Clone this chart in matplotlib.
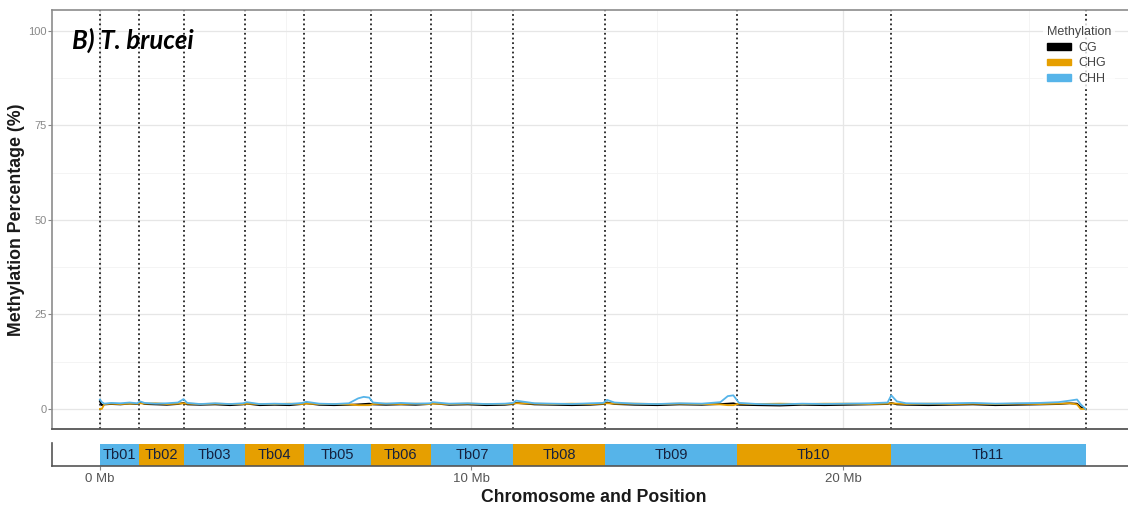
import matplotlib
matplotlib.use("Agg")
import matplotlib.pyplot as plt
from matplotlib.patches import Patch
import numpy as np

plt.rcParams['font.family'] = ['Liberation Sans', 'DejaVu Sans']

# chromosome names and cumulative ends (Mb)
chroms = ['Tb01', 'Tb02', 'Tb03', 'Tb04', 'Tb05', 'Tb06', 'Tb07', 'Tb08', 'Tb09', 'Tb10', 'Tb11']
chrom_ends = [1.06, 2.25, 3.90, 5.49, 7.29, 8.91, 11.12, 13.60, 17.14, 21.28, 26.53]
chrom_colors = ['#56B4E9', '#E69F00'] * 6

# genome position (Mb) and methylation (%) for each context
pos = [0.00, 0.05, 0.12, 0.30, 0.55, 0.80, 1.00, 1.08, 1.20, 1.50, 1.80, 2.10, 2.25, 2.35,
       2.70, 3.10, 3.50, 3.85, 3.95, 4.30, 4.70, 5.10, 5.45, 5.55, 5.90, 6.30, 6.70, 6.95,
       7.10, 7.25, 7.35, 7.70, 8.10, 8.50, 8.88, 8.95, 9.40, 9.90, 10.40, 10.90, 11.12, 11.20,
       11.70, 12.20, 12.70, 13.20, 13.55, 13.65, 13.85, 14.40, 15.00, 15.60, 16.20, 16.70, 16.90,
       17.05, 17.20, 17.70, 18.30, 18.90, 19.50, 20.10, 20.70, 21.20, 21.30, 21.45, 21.70, 22.30,
       22.90, 23.50, 24.10, 24.70, 25.30, 25.80, 26.10, 26.30, 26.40, 26.53]
cg = [2.0, 1.0, 1.2, 1.3, 1.2, 1.4, 1.3, 1.8, 1.3, 1.2, 1.1, 1.3, 1.6, 1.2,
      1.1, 1.2, 1.0, 1.2, 1.4, 1.0, 1.1, 1.0, 1.3, 1.5, 1.1, 1.0, 1.1, 1.2,
      1.3, 1.4, 1.2, 1.1, 1.2, 1.1, 1.3, 1.5, 1.1, 1.2, 1.0, 1.1, 1.3, 1.6,
      1.2, 1.1, 1.0, 1.1, 1.3, 1.7, 1.3, 1.1, 1.0, 1.2, 1.1, 1.3, 1.4,
      1.5, 1.1, 1.0, 0.9, 1.1, 1.0, 1.1, 1.2, 1.3, 1.6, 1.2, 1.1, 1.0,
      1.1, 1.2, 1.0, 1.1, 1.2, 1.3, 1.5, 1.4, 0.5, 0.0]
chg = [0.0, 0.0, 1.3, 1.4, 1.3, 1.4, 1.4, 1.5, 1.4, 1.5, 1.3, 1.4, 1.5, 1.4,
       1.3, 1.4, 1.3, 1.3, 1.4, 1.3, 1.3, 1.4, 1.3, 1.4, 1.3, 1.3, 1.2, 1.0,
       1.0, 1.0, 1.3, 1.4, 1.3, 1.4, 1.3, 1.4, 1.3, 1.4, 1.3, 1.3, 1.4, 1.5,
       1.4, 1.3, 1.4, 1.3, 1.4, 1.5, 1.4, 1.4, 1.3, 1.4, 1.3, 1.2, 1.0,
       1.0, 1.4, 1.3, 1.4, 1.3, 1.4, 1.4, 1.3, 1.4, 1.5, 1.4, 1.3, 1.4,
       1.3, 1.4, 1.3, 1.4, 1.3, 1.4, 1.5, 1.2, 0.0, 0.0]
chh = [2.5, 1.8, 1.4, 1.6, 1.5, 1.7, 1.5, 2.0, 1.6, 1.4, 1.5, 1.7, 2.6, 1.6,
       1.3, 1.5, 1.3, 1.5, 1.8, 1.3, 1.4, 1.3, 1.6, 1.9, 1.4, 1.3, 1.5, 2.8,
       3.2, 3.0, 1.7, 1.4, 1.6, 1.4, 1.5, 1.8, 1.4, 1.5, 1.3, 1.4, 1.6, 2.2,
       1.5, 1.4, 1.3, 1.5, 1.6, 2.4, 1.7, 1.4, 1.3, 1.5, 1.4, 1.8, 3.4,
       3.6, 1.6, 1.3, 1.2, 1.4, 1.3, 1.4, 1.5, 1.7, 3.6, 2.0, 1.5, 1.4,
       1.5, 1.6, 1.4, 1.5, 1.6, 1.8, 2.2, 2.5, 1.2, 0.0]

xmin, xmax = -1.29, 27.86

fig = plt.figure(figsize=(11.28, 5.08), dpi=100)
W, H = 1128, 508
ax = fig.add_axes([52 / W, (H - 429) / H, (1135 - 52) / W, 419 / H])
axb = fig.add_axes([52 / W, (H - 466) / H, (1135 - 52) / W, 23 / H])

# main panel
ax.set_xlim(xmin, xmax)
ax.set_ylim(-5.3, 105.5)
ax.set_yticks([0, 25, 50, 75, 100])
ax.set_yticks([12.5, 37.5, 62.5, 87.5], minor=True)
ax.set_xticks([0, 10, 20])
ax.set_xticks([5, 15, 25], minor=True)
ax.grid(True, which='major', color='#e6e6e6', lw=0.9)
ax.grid(True, which='minor', color='#f2f2f2', lw=0.6)
ax.set_axisbelow(True)
ax.tick_params(axis='x', which='both', length=0, labelbottom=False)
ax.tick_params(axis='y', which='major', length=3, color='#888888', labelsize=8, labelcolor='#888888', pad=1)
ax.tick_params(axis='y', which='minor', length=0)
for s in ['top', 'left']:
    ax.spines[s].set_color('#8c8c8c')
    ax.spines[s].set_linewidth(1.2)
ax.spines['bottom'].set_color('#555555')
ax.spines['bottom'].set_linewidth(1.3)
ax.spines['right'].set_visible(False)

for b in [0.0] + chrom_ends:
    ax.axvline(b, color='#222222', ls=(0, (1, 1.6)), lw=1.3, zorder=1)

ax.plot(pos, cg, color='black', lw=1.3, zorder=3)
ax.plot(pos, chg, color='#E69F00', lw=1.3, zorder=3)
ax.plot(pos, chh, color='#56B4E9', lw=1.3, zorder=4)

ax.set_ylabel('Methylation Percentage (%)', fontsize=12.8, fontweight='bold', color='#1a1a1a')
ax.yaxis.set_label_coords((25 - 52) / 1083, 0.5)

fig.text(72 / W, 1 - 40 / H, 'B) T. brucei', fontsize=18.5,
         fontweight='bold', fontstyle='italic', family=['Lato', 'DejaVu Sans'],
         va='center', ha='left', color='black')

handles = [Patch(color='black', label='CG'), Patch(color='#E69F00', label='CHG'),
           Patch(color='#56B4E9', label='CHH')]
leg = fig.legend(handles=handles, title='Methylation', loc='upper left',
                 bbox_to_anchor=(1037 / W, 1 - 16 / H), frameon=True, fontsize=9,
                 title_fontsize=9, handlelength=1.9, handleheight=0.45, handletextpad=0.6,
                 labelspacing=0.3, borderpad=0.3)
leg.get_frame().set_facecolor('white')
leg.get_frame().set_edgecolor('none')
leg._legend_box.align = 'left'
leg.get_title().set_color('#444444')
for t in leg.get_texts():
    t.set_color('#444444')

# chromosome bar panel
starts = [0.0] + chrom_ends[:-1]
widths = [e - s for s, e in zip(starts, chrom_ends)]
axb.barh(0, widths, left=starts, height=1.0, color=chrom_colors[:len(chroms)], edgecolor='none')
for name, s, w in zip(chroms, starts, widths):
    axb.text(s + w / 2, 0, name, ha='center', va='center', fontsize=10.5, color='#16213e')
axb.set_xlim(xmin, xmax)
axb.set_ylim(-0.5, 0.55)
axb.set_yticks([])
axb.set_xticks([0, 10, 20])
axb.set_xticklabels(['0 Mb', '10 Mb', '20 Mb'])
axb.tick_params(axis='x', length=3, color='#888888', labelsize=9.5, labelcolor='#555555', pad=2)
axb.spines['top'].set_visible(False)
axb.spines['right'].set_visible(False)
axb.spines['left'].set_color('#555555')
axb.spines['bottom'].set_color('#555555')
axb.spines['left'].set_linewidth(1.2)
axb.spines['bottom'].set_linewidth(1.2)
axb.set_xlabel('Chromosome and Position', fontsize=12.7, fontweight='bold', color='#1a1a1a', labelpad=3)

fig.savefig('out.png', dpi=100)
